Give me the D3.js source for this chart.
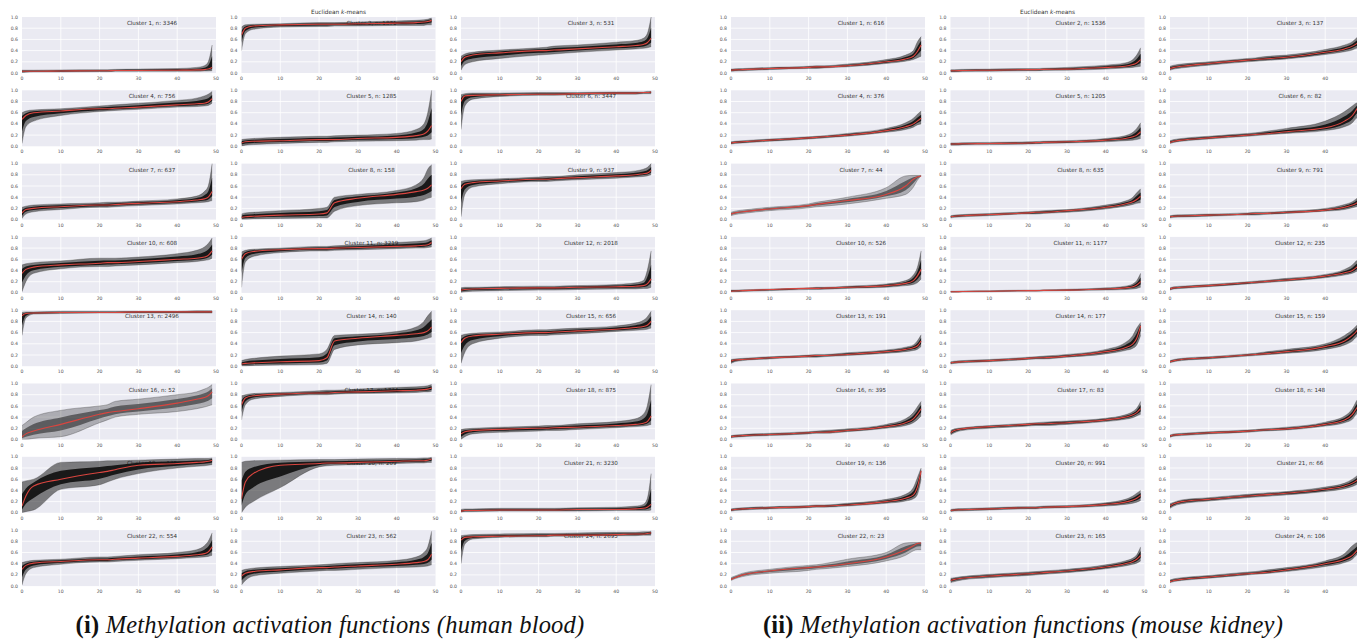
<!DOCTYPE html>
<html>
<head>
<meta charset="utf-8">
<script src="https://cdn.jsdelivr.net/npm/d3@7"></script>
<style>
  body { margin: 0; background: #fff; }
  svg { display: block; }
  .tick-label { font-family: "DejaVu Sans", sans-serif; font-size: 4.6px; fill: #555; }
  .clabel { font-family: "DejaVu Sans", sans-serif; font-size: 5.6px; fill: #333; }
  .title { font-family: "DejaVu Sans", sans-serif; font-size: 5.8px; fill: #333; }
  .caption { font-family: "Liberation Serif", "DejaVu Serif", serif; font-size: 24.5px; fill: #111; letter-spacing: 0.2px; }
</style>
</head>
<body>
<div id="chart"></div>
<script>
// sample positions along the sorted curve (x axis 0..49)
const gridX = [0, 1, 3, 10, 20, 22, 24, 30, 40, 45, 47, 48, 49];
const xTicks = [0, 10, 20, 30, 40, 50];
const yTicks = [0, 0.2, 0.4, 0.6, 0.8, 1.0];

// (i) human blood
const bloodN = [3346, 1871, 531, 756, 1285, 3447, 637, 158, 937, 608, 3219, 2018,
                2496, 140, 656, 52, 1734, 875, 135, 209, 3230, 554, 562, 2695];
const bloodMean = [
  [.03,.03,.03,.035,.04,.04,.045,.045,.05,.055,.06,.07,.1],
  [.68,.8,.84,.86,.87,.87,.87,.88,.89,.9,.91,.92,.94],
  [.2,.28,.32,.36,.4,.4,.41,.43,.47,.49,.51,.54,.62],
  [.48,.55,.6,.63,.67,.67,.68,.7,.74,.76,.77,.79,.85],
  [.06,.08,.09,.1,.12,.12,.12,.14,.16,.19,.22,.27,.37],
  [.8,.9,.91,.92,.93,.93,.93,.94,.95,.95,.96,.96,.97],
  [.12,.18,.2,.23,.26,.26,.27,.29,.32,.35,.37,.4,.5],
  [.04,.05,.06,.08,.1,.12,.3,.38,.45,.5,.53,.56,.62],
  [.55,.63,.66,.69,.72,.72,.73,.75,.78,.8,.82,.83,.88],
  [.35,.42,.46,.5,.53,.54,.54,.56,.6,.62,.64,.67,.75],
  [.6,.7,.74,.77,.79,.79,.8,.81,.83,.84,.85,.86,.9],
  [.05,.06,.07,.08,.09,.09,.09,.1,.11,.12,.13,.16,.25],
  [.9,.94,.95,.96,.96,.96,.96,.97,.97,.97,.97,.97,.97],
  [.04,.05,.06,.08,.1,.15,.45,.5,.55,.58,.6,.63,.7],
  [.42,.5,.54,.57,.6,.6,.61,.63,.66,.69,.71,.73,.8],
  [.05,.1,.15,.27,.45,.48,.5,.55,.65,.72,.75,.78,.85],
  [.62,.74,.78,.81,.83,.83,.84,.85,.87,.88,.89,.9,.92],
  [.1,.14,.16,.18,.2,.2,.21,.22,.25,.27,.29,.32,.42],
  [.12,.3,.48,.6,.72,.74,.77,.85,.88,.9,.91,.92,.94],
  [.25,.55,.7,.85,.88,.89,.89,.9,.92,.93,.93,.94,.96],
  [.03,.04,.04,.05,.05,.05,.05,.06,.06,.07,.08,.1,.15],
  [.3,.37,.41,.44,.47,.47,.48,.5,.53,.56,.58,.61,.7],
  [.18,.23,.26,.29,.33,.33,.34,.36,.39,.42,.44,.47,.57],
  [.82,.87,.88,.89,.9,.9,.91,.91,.92,.93,.93,.94,.95]
];
const bloodLow = [
  [.01,.015,.02,.02,.025,.025,.03,.03,.03,.03,.035,.035,.04],
  [.4,.7,.78,.82,.83,.83,.84,.84,.85,.85,.85,.86,.86],
  [.05,.15,.2,.26,.32,.33,.34,.37,.41,.43,.44,.45,.47],
  [.05,.35,.45,.55,.62,.63,.64,.66,.7,.71,.72,.73,.77],
  [0,.02,.03,.05,.07,.07,.08,.09,.1,.11,.12,.12,.13],
  [.3,.72,.84,.89,.91,.91,.91,.92,.93,.93,.94,.94,.94],
  [.02,.1,.14,.18,.22,.22,.23,.25,.28,.3,.31,.32,.34],
  [0,0,.01,.02,.03,.03,.15,.25,.3,.32,.35,.38,.4],
  [.05,.45,.58,.64,.68,.68,.69,.71,.74,.76,.77,.78,.8],
  [.02,.2,.35,.43,.47,.47,.48,.5,.54,.56,.58,.59,.62],
  [.1,.55,.65,.72,.75,.75,.76,.77,.79,.8,.8,.81,.82],
  [.01,.02,.03,.04,.05,.05,.05,.06,.07,.07,.08,.08,.1],
  [.55,.86,.93,.94,.95,.95,.95,.95,.95,.95,.95,.95,.95],
  [0,0,.01,.02,.03,.05,.3,.38,.42,.45,.48,.5,.52],
  [.05,.25,.4,.5,.55,.55,.56,.58,.62,.64,.65,.66,.68],
  [0,0,.02,.05,.3,.35,.4,.45,.5,.55,.58,.6,.62],
  [.35,.62,.72,.77,.8,.8,.81,.82,.83,.84,.85,.85,.86],
  [0,.05,.1,.13,.15,.16,.16,.18,.21,.23,.24,.25,.27],
  [0,.02,.05,.42,.5,.55,.6,.7,.8,.83,.84,.85,.86],
  [0,.1,.2,.45,.82,.84,.85,.86,.88,.89,.89,.9,.9],
  [.01,.02,.02,.03,.03,.03,.03,.03,.04,.04,.04,.04,.05],
  [.02,.22,.33,.39,.43,.43,.44,.46,.49,.51,.52,.53,.55],
  [.02,.1,.18,.23,.27,.28,.28,.3,.33,.34,.35,.36,.38],
  [.4,.75,.84,.87,.88,.88,.89,.89,.9,.9,.91,.91,.91]
];
const bloodHigh = [
  [.05,.05,.05,.055,.06,.06,.065,.07,.08,.1,.13,.2,.5],
  [.82,.86,.87,.88,.9,.9,.9,.91,.93,.94,.95,.96,.98],
  [.3,.34,.37,.41,.45,.46,.48,.5,.55,.58,.62,.7,1.0],
  [.6,.63,.65,.67,.72,.73,.74,.77,.82,.86,.9,.93,.98],
  [.12,.13,.14,.16,.18,.18,.19,.2,.23,.3,.4,.6,1.0],
  [.92,.94,.95,.95,.96,.96,.96,.96,.97,.97,.97,.98,.98],
  [.22,.24,.26,.28,.3,.31,.31,.33,.37,.42,.5,.6,1.0],
  [.1,.12,.13,.16,.2,.22,.4,.45,.52,.62,.75,.9,.98],
  [.68,.7,.71,.73,.76,.77,.77,.8,.84,.87,.9,.93,1.0],
  [.5,.52,.54,.57,.62,.62,.62,.64,.7,.76,.82,.88,.98],
  [.73,.76,.78,.8,.83,.83,.84,.86,.9,.92,.93,.95,.98],
  [.09,.1,.1,.11,.12,.12,.12,.13,.15,.18,.22,.4,.75],
  [.96,.97,.97,.98,.98,.98,.98,.98,.98,.99,.99,.99,.99],
  [.1,.12,.14,.18,.22,.3,.55,.57,.62,.7,.8,.9,.98],
  [.55,.57,.59,.61,.65,.65,.66,.68,.72,.77,.82,.88,.98],
  [.25,.3,.4,.52,.6,.62,.68,.72,.8,.85,.9,.93,.98],
  [.78,.8,.82,.84,.87,.88,.88,.9,.93,.94,.95,.96,.98],
  [.18,.19,.2,.22,.24,.25,.25,.28,.32,.37,.45,.6,.98],
  [.55,.57,.6,.9,.92,.93,.93,.94,.96,.97,.97,.97,.98],
  [.9,.92,.93,.94,.95,.95,.95,.96,.97,.97,.98,.98,.99],
  [.06,.07,.07,.08,.08,.08,.08,.09,.1,.12,.15,.25,.7],
  [.42,.44,.46,.48,.52,.52,.53,.56,.6,.65,.72,.8,.95],
  [.28,.3,.32,.35,.38,.39,.4,.42,.46,.52,.6,.7,.98],
  [.9,.91,.92,.93,.94,.94,.94,.95,.96,.96,.97,.97,.98]
];

// (ii) mouse kidney
const kidneyN = [616, 1536, 137, 376, 1205, 82, 44, 635, 791, 526, 1177, 235,
                 191, 177, 159, 395, 83, 148, 136, 991, 66, 23, 165, 106];
const kidneyMean = [
  [.05,.055,.06,.08,.1,.11,.11,.13,.2,.25,.3,.38,.5],
  [.04,.04,.045,.05,.06,.06,.065,.07,.1,.12,.15,.18,.24],
  [.08,.1,.12,.17,.23,.24,.25,.28,.37,.43,.48,.52,.57],
  [.06,.07,.08,.11,.15,.16,.17,.2,.28,.35,.4,.45,.5],
  [.04,.04,.045,.05,.06,.065,.07,.08,.11,.14,.17,.2,.26],
  [.07,.09,.11,.15,.2,.21,.22,.26,.33,.45,.55,.65,.76],
  [.1,.12,.14,.19,.25,.27,.29,.34,.45,.6,.72,.76,.78],
  [.05,.06,.07,.09,.12,.13,.13,.16,.22,.28,.32,.36,.42],
  [.05,.06,.065,.08,.1,.11,.11,.13,.17,.22,.26,.29,.35],
  [.03,.035,.04,.06,.08,.08,.085,.1,.13,.17,.22,.3,.42],
  [.02,.02,.025,.03,.04,.04,.045,.05,.07,.09,.11,.14,.2],
  [.07,.09,.1,.13,.18,.19,.2,.23,.3,.36,.4,.45,.52],
  [.09,.11,.12,.15,.18,.19,.19,.21,.26,.3,.33,.36,.45],
  [.06,.07,.08,.1,.14,.15,.15,.18,.26,.33,.4,.5,.72],
  [.08,.1,.12,.15,.2,.21,.22,.26,.35,.45,.55,.62,.72],
  [.05,.06,.07,.09,.12,.13,.13,.16,.23,.3,.37,.45,.55],
  [.12,.16,.19,.23,.27,.28,.28,.3,.35,.4,.44,.48,.55],
  [.06,.08,.09,.12,.15,.16,.17,.19,.27,.35,.45,.55,.65],
  [.05,.06,.07,.09,.11,.12,.12,.14,.2,.26,.32,.45,.75],
  [.04,.05,.055,.07,.09,.09,.1,.11,.15,.19,.23,.26,.31],
  [.12,.16,.2,.24,.3,.31,.32,.35,.42,.48,.53,.57,.63],
  [.12,.15,.2,.27,.33,.34,.35,.4,.52,.65,.72,.76,.77],
  [.1,.12,.14,.18,.22,.23,.24,.27,.34,.4,.44,.48,.55],
  [.08,.1,.12,.16,.22,.23,.24,.29,.4,.48,.55,.62,.72]
];
const kidneyLow = [
  [.03,.035,.04,.06,.08,.08,.09,.11,.17,.21,.24,.27,.3],
  [.02,.02,.025,.03,.04,.04,.045,.05,.07,.09,.1,.11,.12],
  [.05,.07,.09,.14,.2,.21,.22,.25,.33,.38,.41,.44,.46],
  [.04,.05,.06,.09,.13,.14,.15,.18,.25,.3,.34,.38,.4],
  [.02,.02,.025,.03,.04,.045,.05,.06,.08,.1,.11,.12,.14],
  [.05,.07,.09,.13,.18,.19,.2,.23,.28,.35,.42,.5,.55],
  [.07,.09,.11,.16,.21,.23,.24,.28,.38,.45,.58,.7,.78],
  [.03,.04,.05,.07,.1,.1,.11,.13,.19,.24,.27,.29,.3],
  [.03,.04,.045,.06,.08,.08,.09,.11,.15,.18,.21,.23,.26],
  [.02,.02,.025,.04,.06,.06,.065,.08,.1,.13,.15,.18,.25],
  [.01,.01,.015,.02,.03,.03,.035,.04,.05,.06,.07,.08,.1],
  [.05,.07,.08,.11,.16,.17,.18,.21,.27,.32,.35,.38,.42],
  [.05,.08,.1,.13,.16,.16,.17,.19,.23,.26,.28,.3,.35],
  [.04,.05,.06,.08,.12,.13,.13,.16,.22,.28,.32,.38,.55],
  [.06,.08,.1,.13,.18,.19,.2,.23,.3,.38,.45,.52,.58],
  [.03,.04,.05,.07,.1,.11,.11,.14,.2,.25,.3,.35,.42],
  [.08,.12,.16,.2,.24,.25,.25,.27,.32,.36,.39,.42,.45],
  [.04,.06,.07,.1,.13,.14,.15,.17,.24,.3,.36,.45,.5],
  [.03,.04,.05,.07,.09,.1,.1,.12,.17,.21,.25,.32,.6],
  [.02,.03,.035,.05,.07,.07,.08,.09,.12,.15,.17,.19,.22],
  [.08,.12,.16,.21,.27,.28,.29,.32,.38,.43,.47,.5,.55],
  [.1,.13,.17,.23,.28,.3,.31,.35,.45,.55,.63,.65,.65],
  [.06,.08,.11,.15,.19,.2,.21,.24,.31,.36,.39,.41,.45],
  [.06,.08,.1,.14,.2,.21,.22,.26,.35,.42,.48,.55,.62]
];
const kidneyHigh = [
  [.07,.075,.08,.1,.12,.13,.13,.16,.24,.32,.4,.55,.65],
  [.06,.06,.065,.07,.08,.08,.085,.1,.14,.18,.24,.32,.45],
  [.12,.14,.16,.2,.26,.27,.29,.32,.42,.5,.56,.62,.68],
  [.08,.09,.1,.13,.17,.18,.19,.23,.32,.42,.5,.57,.63],
  [.06,.06,.065,.07,.08,.085,.09,.1,.14,.19,.25,.32,.42],
  [.1,.12,.14,.18,.23,.24,.26,.32,.45,.62,.72,.77,.78],
  [.13,.15,.17,.22,.28,.31,.33,.4,.57,.78,.79,.79,.79],
  [.07,.08,.09,.11,.14,.15,.16,.18,.26,.33,.4,.48,.55],
  [.07,.08,.085,.1,.12,.13,.13,.15,.2,.27,.32,.37,.42],
  [.05,.05,.055,.07,.09,.1,.1,.12,.16,.22,.32,.45,.75],
  [.03,.03,.035,.04,.05,.05,.055,.065,.09,.12,.16,.22,.35],
  [.09,.11,.12,.15,.2,.21,.22,.26,.33,.42,.5,.57,.6],
  [.12,.13,.14,.17,.2,.21,.21,.24,.29,.34,.38,.45,.56],
  [.08,.09,.1,.12,.16,.17,.18,.21,.3,.42,.55,.68,.78],
  [.1,.12,.14,.17,.22,.23,.25,.3,.4,.55,.65,.72,.78],
  [.07,.08,.09,.11,.14,.15,.16,.19,.27,.37,.48,.58,.68],
  [.16,.19,.21,.25,.29,.3,.31,.33,.38,.44,.5,.56,.68],
  [.08,.1,.11,.14,.17,.18,.19,.22,.31,.42,.55,.68,.78],
  [.07,.08,.09,.11,.13,.14,.14,.17,.24,.33,.45,.62,.8],
  [.06,.07,.075,.09,.11,.11,.12,.13,.18,.24,.3,.35,.4],
  [.16,.19,.23,.27,.33,.34,.35,.38,.46,.53,.6,.65,.7],
  [.15,.18,.23,.3,.37,.38,.4,.48,.6,.77,.78,.78,.78],
  [.14,.15,.17,.21,.25,.26,.27,.3,.38,.45,.5,.56,.7],
  [.11,.13,.15,.19,.25,.26,.28,.33,.45,.58,.72,.77,.78]
];

const width = 1357, height = 641;
const plotW = 194, plotH = 56;
const colStep = 219.5, rowStep = 73.3, plotTop = 17;

const svg = d3.select('#chart')
    .append('svg')
    .attr('width', width)
    .attr('height', height);

const x = d3.scaleLinear().domain([0, 50]).range([0, plotW]);
const y = d3.scaleLinear().domain([0, 1]).range([plotH, 0]);

const area = d3.area()
    .x((d, i) => x(gridX[i]))
    .y0(d => y(d[0]))
    .y1(d => y(d[1]))
    .curve(d3.curveMonotoneX);

const line = d3.line()
    .x((d, i) => x(gridX[i]))
    .y(d => y(d))
    .curve(d3.curveMonotoneX);

function drawPanel(left, sizes, mean, low, high) {
    sizes.forEach((n, k) => {
        const col = k % 3, row = Math.floor(k / 3);
        const gx0 = left + col * colStep;
        const g = svg.append('g')
            .attr('transform', `translate(${gx0}, ${plotTop + row * rowStep})`);

        const clipId = `clip-${left}-${k}`;
        g.append('clipPath').attr('id', clipId)
            .append('rect').attr('width', plotW).attr('height', plotH + 1).attr('y', -1);

        g.append('rect')
            .attr('width', plotW)
            .attr('height', plotH)
            .attr('fill', '#eaeaf2');

        g.selectAll('.gx')
            .data(xTicks.slice(1, -1))
            .enter().append('line')
            .attr('x1', d => x(d)).attr('x2', d => x(d))
            .attr('y1', 0).attr('y2', plotH)
            .attr('stroke', '#fff').attr('stroke-width', 0.8);

        g.selectAll('.gy')
            .data(yTicks.slice(1, -1))
            .enter().append('line')
            .attr('x1', 0).attr('x2', plotW)
            .attr('y1', d => y(d)).attr('y2', d => y(d))
            .attr('stroke', '#fff').attr('stroke-width', 0.8);

        g.selectAll('.ty')
            .data(yTicks)
            .enter().append('text')
            .attr('class', 'tick-label')
            .attr('x', -4)
            .attr('y', d => y(d) + 1.6)
            .attr('text-anchor', 'end')
            .text(d => d.toFixed(1));

        // the right-most panel runs off the page, so its last labels are not shown
        g.selectAll('.tx')
            .data(xTicks.filter(d => gx0 + x(d) + 4 < width))
            .enter().append('text')
            .attr('class', 'tick-label')
            .attr('x', d => x(d))
            .attr('y', plotH + 7)
            .attr('text-anchor', 'middle')
            .text(d => d);

        g.append('text')
            .attr('class', 'clabel')
            .attr('x', x(33.5))
            .attr('y', y(0.855))
            .attr('text-anchor', 'middle')
            .text(`Cluster ${k + 1}, n: ${n}`);

        const lo = low[k], hi = high[k], mu = mean[k];
        const outer = lo.map((v, i) => [v, hi[i]]);
        const core = lo.map((v, i) => [(v + mu[i]) / 2, (mu[i] + hi[i]) / 2]);
        const dense = n >= 60 ? 1 : 0.55;

        const lines = g.append('g').attr('clip-path', `url(#${clipId})`);

        lines.append('path')
            .attr('d', area(outer))
            .attr('fill', '#1e1e1e')
            .attr('fill-opacity', 0.55 * dense);

        lines.append('path')
            .attr('d', area(core))
            .attr('fill', '#141414')
            .attr('fill-opacity', 0.95 * dense);

        [lo, hi].forEach(edge => {
            lines.append('path')
                .attr('d', line(edge))
                .attr('fill', 'none')
                .attr('stroke', '#2a2a2a')
                .attr('stroke-opacity', 0.5)
                .attr('stroke-width', 0.6);
        });

        lines.append('path')
            .attr('d', line(mu))
            .attr('fill', 'none')
            .attr('stroke', '#d9453f')
            .attr('stroke-width', 1.1);
    });
}

drawPanel(22, bloodN, bloodMean, bloodLow, bloodHigh);
drawPanel(731, kidneyN, kidneyMean, kidneyLow, kidneyHigh);

[22, 731].forEach(left => {
    const t = svg.append('text').attr('class', 'title')
        .attr('x', left + colStep + plotW / 2).attr('y', 14)
        .attr('text-anchor', 'middle');
    t.append('tspan').text('Euclidean ');
    t.append('tspan').attr('font-style', 'italic').text('k');
    t.append('tspan').text('-means');
});

const captions = [
    { cx: 330, tag: '(i)', text: 'Methylation activation functions (human blood)' },
    { cx: 1023, tag: '(ii)', text: 'Methylation activation functions (mouse kidney)' }
];
captions.forEach(c => {
    const t = svg.append('text').attr('class', 'caption')
        .attr('x', c.cx).attr('y', 633)
        .attr('text-anchor', 'middle');
    t.append('tspan').attr('font-weight', 'bold').text(c.tag + ' ');
    t.append('tspan').attr('font-style', 'italic').text(c.text);
});
</script>
</body>
</html>
